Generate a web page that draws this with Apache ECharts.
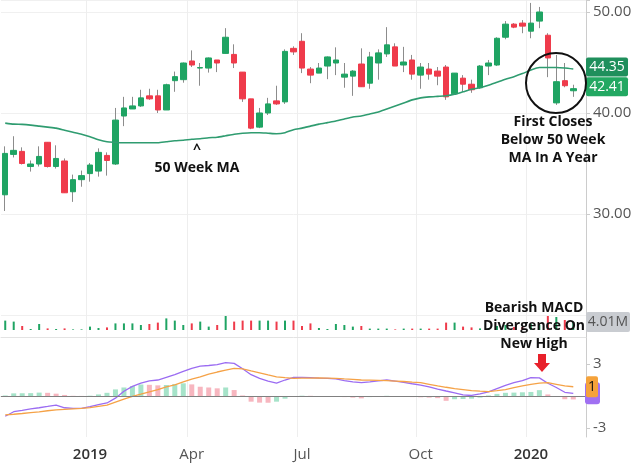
<!DOCTYPE html>
<html><head><meta charset="utf-8">
<script src="https://cdn.jsdelivr.net/npm/echarts@6/dist/echarts.min.js"></script>
<style>html,body{margin:0;padding:0;background:#fff}#c{width:640px;height:469px}</style>
</head><body><div id="c"></div><script>
const weeks = [
'2018-10-29','2018-11-05','2018-11-12','2018-11-19','2018-11-26','2018-12-03','2018-12-10','2018-12-17','2018-12-24','2018-12-31',
'2019-01-07','2019-01-14','2019-01-21','2019-01-28','2019-02-04','2019-02-11','2019-02-18','2019-02-25','2019-03-04','2019-03-11',
'2019-03-18','2019-03-25','2019-04-01','2019-04-08','2019-04-15','2019-04-22','2019-04-29','2019-05-06','2019-05-13','2019-05-20',
'2019-05-27','2019-06-03','2019-06-10','2019-06-17','2019-06-24','2019-07-01','2019-07-08','2019-07-15','2019-07-22','2019-07-29',
'2019-08-05','2019-08-12','2019-08-19','2019-08-26','2019-09-02','2019-09-09','2019-09-16','2019-09-23','2019-09-30','2019-10-07',
'2019-10-14','2019-10-21','2019-10-28','2019-11-04','2019-11-11','2019-11-18','2019-11-25','2019-12-02','2019-12-09','2019-12-16',
'2019-12-23','2019-12-30','2020-01-06','2020-01-13','2020-01-20','2020-01-27','2020-02-03','2020-02-10','2020-02-17'];
const opens = [
31.9,35.9,36.2,34.7,34.95,37.1,34.7,35.25,32.2,33.4,
34.0,34.25,35.8,34.95,39.7,40.4,40.7,41.7,41.7,40.3,
43.2,43.3,45.15,44.45,44.45,45.25,45.9,45.8,44.05,41.4,
38.6,40.0,41.2,41.1,46.4,47.1,44.35,43.95,44.65,44.95,
43.55,43.65,44.85,42.95,44.95,45.85,46.55,44.75,45.25,43.75,
44.35,44.15,44.55,41.9,43.45,42.85,42.5,44.65,44.75,47.5,
48.8,48.9,48.1,49.1,47.7,41.0,43.2,42.2];
const closes = [
36.0,36.3,35.0,34.95,35.7,34.7,35.5,32.1,33.4,33.8,
34.85,36.1,35.3,39.3,40.5,40.7,41.5,41.4,40.3,42.8,
43.6,44.95,44.75,44.5,45.45,44.95,47.5,44.95,41.4,38.5,
40.0,40.9,40.9,46.1,46.05,44.45,43.75,44.45,45.55,45.25,
43.85,44.15,42.6,45.55,45.95,46.75,44.65,45.05,43.85,44.55,
43.85,43.65,41.6,43.95,42.85,42.3,44.65,44.95,47.4,48.8,
48.5,48.6,48.9,50.0,45.45,43.1,42.7,42.41];
const lows = [
30.3,35.6,34.9,34.2,34.7,34.6,34.5,32.1,31.2,32.7,
33.2,33.7,33.8,34.85,38.7,40.4,40.6,41.3,40.0,40.3,
42.1,43.0,44.55,42.7,44.0,44.05,45.9,44.45,41.1,38.4,
38.5,39.8,40.8,40.9,45.75,43.95,42.95,43.95,43.35,43.75,
42.5,41.7,42.6,42.4,43.3,45.55,44.65,44.05,43.3,42.4,
43.3,42.75,41.3,41.8,42.1,42.0,42.4,43.75,44.65,47.3,
48.4,47.9,47.4,48.4,43.55,40.8,42.55,41.6];
const highs = [
36.7,37.7,36.6,35.3,36.7,37.1,36.8,35.5,33.9,34.3,
35.05,36.5,36.1,40.5,41.6,41.6,42.3,42.4,42.3,42.9,
44.1,45.0,46.2,44.95,45.5,45.25,48.4,46.8,44.05,41.4,
40.5,41.5,42.7,46.3,46.6,47.9,44.55,44.95,45.6,46.5,
44.95,44.25,46.4,46.05,46.3,48.5,46.9,46.55,45.75,44.95,
44.95,44.55,44.75,43.95,43.75,43.3,44.75,45.25,47.5,49.1,
48.9,49.2,50.9,50.5,47.9,45.75,44.95,42.8];
const ma50 = [
39.0,38.9,38.87,38.8,38.7,38.6,38.5,38.3,38.1,37.9,
37.65,37.35,37.15,37.1,37.05,37.05,37.05,37.05,37.05,37.15,
37.25,37.3,37.4,37.45,37.55,37.6,37.75,37.9,38.0,38.05,
38.05,38.0,37.95,38.05,38.35,38.5,38.7,38.9,39.05,39.2,
39.4,39.6,39.7,39.9,40.1,40.4,40.7,41.0,41.3,41.5,
41.6,41.65,41.7,41.85,42.1,42.35,42.5,42.75,43.05,43.35,
43.6,43.9,44.25,44.5,44.5,44.5,44.45,44.35];
const volumesM = [
4.7,4.2,2.0,0.5,3.0,0.8,0.5,0.8,0.3,0.3,
1.7,1.0,1.3,3.3,3.3,3.3,2.5,3.0,3.7,5.8,
4.7,2.5,3.3,4.2,1.7,2.5,7.0,4.2,4.7,4.7,
4.7,4.7,4.2,4.7,4.7,2.0,3.3,1.0,0.5,3.0,
2.5,1.7,2.0,0.7,0.7,0.7,0.3,0.7,0.7,0.7,
0.7,0.7,3.7,3.7,1.7,1.3,0.8,1.0,2.0,2.5,
1.5,1.5,3.0,2.5,7.0,6.5,5.0,4.01];
const macdLine = [
-1.9,-1.47,-1.35,-1.2,-1.1,-0.98,-0.85,-1.1,-1.16,-1.15,
-1.0,-0.8,-0.65,-0.2,0.45,0.9,1.2,1.42,1.5,1.75,
2.0,2.3,2.6,2.8,2.86,2.95,3.12,3.06,2.55,2.0,
1.65,1.4,1.2,1.5,1.75,1.75,1.72,1.68,1.66,1.6,
1.45,1.32,1.25,1.33,1.42,1.5,1.4,1.28,1.15,1.03,
0.85,0.65,0.47,0.3,0.1,0.05,0.2,0.38,0.7,1.0,
1.25,1.44,1.72,1.7,1.2,0.8,0.35,0.25];
const signalLine = [
-1.77,-1.71,-1.64,-1.56,-1.48,-1.38,-1.3,-1.25,-1.2,-1.16,
-1.08,-0.97,-0.86,-0.58,-0.3,-0.03,0.17,0.39,0.6,0.85,
1.05,1.33,1.58,1.8,2.05,2.25,2.42,2.59,2.55,2.35,
2.17,1.98,1.8,1.72,1.66,1.68,1.68,1.7,1.68,1.66,
1.6,1.55,1.5,1.48,1.46,1.44,1.4,1.36,1.3,1.25,
1.1,0.95,0.82,0.7,0.6,0.5,0.45,0.42,0.5,0.6,
0.78,0.94,1.1,1.2,1.25,1.1,0.95,0.87];
const histogram = [
0.05,0.25,0.26,0.27,0.32,0.3,0.22,0.1,0.02,0.01,
0.03,0.15,0.3,0.62,0.8,0.94,1.08,1.05,1.0,1.03,
1.12,1.19,1.09,0.87,0.8,0.72,0.8,0.56,0.05,-0.53,
-0.62,-0.63,-0.53,-0.25,0.0,0.03,0.02,0.0,-0.02,-0.05,
-0.1,-0.15,-0.22,-0.1,-0.05,0.02,0.0,-0.05,-0.1,-0.12,
-0.15,-0.2,-0.45,-0.3,-0.28,-0.25,-0.15,0.05,0.2,0.3,
0.32,0.35,0.38,0.55,0.15,-0.05,-0.3,-0.32];
const axisMarks = {'2019-01-07':'2019','2019-04-01':'Apr','2019-07-01':'Jul','2019-10-07':'Oct','2020-01-06':'2020'};
const priceTicks = [30, 40, 50];
const macdTicks = [-3, 3];

const UP = '#1fa463', DOWN = '#ef3b4b', WICK = '#8c8c8c';
const FONT = '"Open Sans", "Noto Sans", sans-serif';
const last = closes.length - 1;

const ohlc = opens.map((o, i) => [o, closes[i], lows[i], highs[i]]);
const bodies = opens.map((o, i) => [o, closes[i], Math.min(o, closes[i]), Math.max(o, closes[i])]);
const volData = volumesM.map((v, i) => ({value: v, itemStyle: {color: closes[i] >= opens[i] ? UP : DOWN}}));
const histData = histogram.map((v, i) => ({value: v, itemStyle: {color: (i === 0 || v >= histogram[i - 1]) ? '#a6e3c9' : '#f7b6bf'}}));

const markIdx = (i, v) => axisMarks[v] !== undefined;
const gridLine = {show: true, interval: markIdx, lineStyle: {color: '#eeeeee', width: 1}};
function xCat(gi, extra) {
  return Object.assign({type: 'category', gridIndex: gi, data: weeks, boundaryGap: true,
    axisLine: {show: false}, axisTick: {show: false}, axisLabel: {show: false}, splitLine: gridLine}, extra || {});
}

const chart = echarts.init(document.getElementById('c'), null, {renderer: 'canvas'});
chart.setOption({
  animation: false,
  backgroundColor: '#ffffff',
  grid: [
    {left: 1, right: 54, top: 0, height: 315},
    {left: 1, right: 54, top: 300, height: 37},
    {left: 1, right: 54, top: 337, height: 100}
  ],
  xAxis: [
    xCat(0),
    xCat(1),
    xCat(2, {
      axisLine: {show: true, lineStyle: {color: '#cccccc'}},
      axisLabel: {show: true, interval: markIdx, margin: 10, color: '#555', fontSize: 15, fontFamily: FONT,
        formatter: v => { const t = axisMarks[v] || ''; return /^\d{4}$/.test(t) ? '{y|' + t + '}' : t; },
        rich: {y: {fontWeight: 600, color: '#333', fontSize: 15, fontFamily: FONT}}}
    }),
    xCat(2, {position: 'top', splitLine: {show: false}, axisLine: {show: true, lineStyle: {color: '#e3e3e3'}}})
  ],
  yAxis: [
    {type: 'value', gridIndex: 0, position: 'right', min: 20, max: 51.188, interval: 10,
      axisLine: {show: true, lineStyle: {color: '#cccccc'}},
      axisTick: {show: true, length: 4, lineStyle: {color: '#cccccc'}},
      axisLabel: {color: '#555', fontSize: 15, fontFamily: FONT, margin: 7,
        formatter: v => priceTicks.indexOf(v) >= 0 ? v.toFixed(2) : ''},
      splitLine: {show: true, lineStyle: {color: '#f0f0f0'}}},
    {type: 'value', gridIndex: 1, position: 'right', min: -3.5, max: 15,
      axisLine: {show: true, lineStyle: {color: '#cccccc'}}, axisTick: {show: false},
      axisLabel: {show: false}, splitLine: {show: false}},
    {type: 'value', gridIndex: 2, position: 'right', min: -3.84, max: 5.53,
      axisLine: {show: true, lineStyle: {color: '#cccccc'}},
      axisTick: {show: true, length: 4, customValues: macdTicks, lineStyle: {color: '#cccccc'}},
      axisLabel: {color: '#555', fontSize: 15, fontFamily: FONT, margin: 7, customValues: macdTicks},
      splitLine: {show: false}}
  ],
  series: [
    {type: 'candlestick', name: 'wick', xAxisIndex: 0, yAxisIndex: 0, data: ohlc, barWidth: 1, clip: false,
      itemStyle: {color: WICK, color0: WICK, borderColor: WICK, borderColor0: WICK, borderWidth: 1}},
    {type: 'candlestick', name: 'body', xAxisIndex: 0, yAxisIndex: 0, data: bodies, barWidth: 6, clip: false,
      itemStyle: {color: UP, color0: DOWN, borderColor: UP, borderColor0: DOWN, borderWidth: 1}},
    {type: 'line', name: '50 Week MA', xAxisIndex: 0, yAxisIndex: 0, data: ma50, symbol: 'none', smooth: 0.2,
      lineStyle: {color: '#2f9c70', width: 1.6}, z: 3},
    {type: 'bar', name: 'Volume', xAxisIndex: 1, yAxisIndex: 1, data: volData, barWidth: 2},
    {type: 'bar', name: 'Histogram', xAxisIndex: 2, yAxisIndex: 2, data: histData, barWidth: 5,
      markLine: {silent: true, symbol: 'none', label: {show: false}, lineStyle: {color: '#808080', width: 1.2, type: 'solid'},
        data: [{yAxis: 0}]}},
    {type: 'line', name: 'MACD', xAxisIndex: 2, yAxisIndex: 2, data: macdLine, symbol: 'none',
      lineStyle: {color: '#9b6cf2', width: 1.3}},
    {type: 'line', name: 'Signal', xAxisIndex: 2, yAxisIndex: 2, data: signalLine, symbol: 'none',
      lineStyle: {color: '#f5a247', width: 1.3}}
  ]
});

const axX = 586;
const yMA = chart.convertToPixel({yAxisIndex: 0}, ma50[last]);
const yClose = chart.convertToPixel({yAxisIndex: 0}, closes[last]);
const yVol = chart.convertToPixel({yAxisIndex: 1}, volumesM[last]);
const ySig = chart.convertToPixel({yAxisIndex: 2}, signalLine[last]);
const yMacd = chart.convertToPixel({yAxisIndex: 2}, macdLine[last]);

function tag(yc, w, h, bg, txt, color) {
  return [
    {type: 'rect', z: 100, shape: {x: axX, y: yc - h / 2, width: w, height: h, r: 2}, style: {fill: bg}},
    {type: 'text', z: 101, style: {text: txt, x: axX + w / 2, y: yc, fill: color, font: '14px ' + FONT,
      align: 'center', verticalAlign: 'middle', textAlign: 'center', textVerticalAlign: 'middle'}}
  ];
}
function label(txt, x, y) {
  return {type: 'text', z: 100, style: {text: txt, x: x, y: y, fill: '#111', font: 'bold 14px ' + FONT, lineHeight: 18,
    align: 'center', verticalAlign: 'middle', textAlign: 'center', textVerticalAlign: 'middle'}};
}

chart.setOption({
  graphic: [].concat(
    tag(yMA - 2, 42, 19, '#1f8f5c', ma50[last].toFixed(2), '#ffffff'),
    tag(yClose - 2, 42, 19, '#22a862', closes[last].toFixed(2), '#ffffff'),
    tag(yVol, 44, 20, '#c9ccd1', volumesM[last].toFixed(2) + 'M', '#555555'),
    [{type: 'rect', z: 100, shape: {x: axX - 1, y: yMacd - 11, width: 15, height: 22, r: 3}, style: {fill: '#a070f2'}}],
    tag(ySig, 12, 21, '#f5a23a', '1', '#111111'),
    [
      {type: 'ellipse', z: 100, shape: {cx: 556, cy: 83, rx: 30, ry: 30}, style: {fill: null, stroke: '#111', lineWidth: 2}},
      label('^', 197, 150),
      label('50 Week MA', 197, 168),
      label('First Closes\nBelow 50 Week\nMA In A Year', 553, 140),
      label('Bearish MACD\nDivergence On\nNew High', 534, 326),
      {type: 'polygon', z: 100, shape: {points: [[538, 354], [546, 354], [546, 363], [550, 363], [542, 372], [534, 363], [538, 363]]},
        style: {fill: '#e8202a'}}
    ]
  )
});
</script></body></html>
